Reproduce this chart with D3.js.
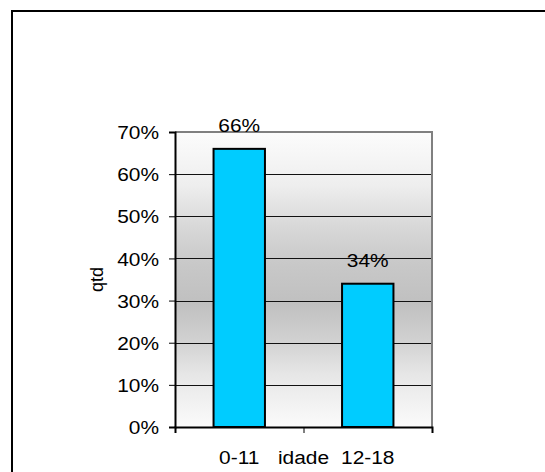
<!DOCTYPE html>
<html>
<head>
<meta charset="utf-8">
<script src="https://cdn.jsdelivr.net/npm/d3@7/dist/d3.min.js"></script>
<style>
  html, body { margin: 0; padding: 0; background: #fff; }
  svg { display: block; }
  text { font-family: "Liberation Sans", Arial, sans-serif; fill: #000; }
</style>
</head>
<body>
<svg id="chart" width="545" height="472"></svg>
<script>
// Share of records by age group
const categories = ["0-11", "12-18"];
const shares = [0.66, 0.34];
const yTicks = [0, 0.1, 0.2, 0.3, 0.4, 0.5, 0.6, 0.7];
const yTitle = "qtd";
const xTitle = "idade";

const svg = d3.select("#chart");
const plot = { left: 175, top: 132, right: 432, bottom: 427 };
const fontSize = 19;
const stretch = "scale(1.1,1)";

// Frame around the whole chart
svg.append("rect")
  .attr("x", 12).attr("y", 11)
  .attr("width", 600).attr("height", 520)
  .attr("fill", "#fff")
  .attr("stroke", "#000").attr("stroke-width", 2);

const x = d3.scaleBand()
  .domain(categories)
  .range([plot.left, plot.right])
  .paddingInner(0.6)
  .paddingOuter(0.3);

const y = d3.scaleLinear()
  .domain([0, 0.7])
  .range([plot.bottom, plot.top]);

// Plot-area background: light at the edges, grey in the middle
const defs = svg.append("defs");
const grad = defs.append("linearGradient")
  .attr("id", "bg").attr("x1", 0).attr("y1", 0).attr("x2", 0).attr("y2", 1);
[[0, "#fcfcfc"], [0.18, "#eeeeee"], [0.32, "#d8d8d8"], [0.45, "#c8c8c8"],
 [0.58, "#c0c0c0"], [0.7, "#d0d0d0"], [0.82, "#e6e6e6"], [1, "#fbfbfb"]]
  .forEach(([o, c]) => grad.append("stop").attr("offset", o).attr("stop-color", c));

svg.append("rect")
  .attr("x", plot.left).attr("y", plot.top)
  .attr("width", plot.right - plot.left).attr("height", plot.bottom - plot.top)
  .attr("fill", "url(#bg)");

// Horizontal gridlines
svg.append("g")
  .selectAll("line")
  .data(yTicks.filter(t => t > 0 && t < 0.7))
  .join("line")
  .attr("x1", plot.left).attr("x2", plot.right)
  .attr("y1", d => Math.round(y(d)) + 0.5).attr("y2", d => Math.round(y(d)) + 0.5)
  .attr("stroke", "#111").attr("stroke-width", 1);

// Top and right edges of the plot area
svg.append("path")
  .attr("d", `M${plot.left},${plot.top} H${plot.right} V${plot.bottom}`)
  .attr("fill", "none").attr("stroke", "#808080").attr("stroke-width", 2);

// Bars
svg.append("g")
  .selectAll("rect")
  .data(categories)
  .join("rect")
  .attr("x", d => x(d))
  .attr("y", (d, i) => y(shares[i]))
  .attr("width", x.bandwidth())
  .attr("height", (d, i) => y(0) - y(shares[i]))
  .attr("fill", "#00ccff")
  .attr("stroke", "#000").attr("stroke-width", 2);

// Value labels above the bars
svg.append("g")
  .selectAll("text")
  .data(categories)
  .join("text")
  .attr("transform", (d, i) =>
    `translate(${x(d) + x.bandwidth() / 2},${y(shares[i]) - 17}) ${stretch}`)
  .attr("text-anchor", "middle")
  .style("font-size", fontSize + "px")
  .text((d, i) => d3.format(".0%")(shares[i]));

// Y axis
const yAxis = svg.append("g")
  .attr("transform", `translate(${plot.left},0)`)
  .call(d3.axisLeft(y).tickValues(yTicks).tickSize(6).tickFormat(d3.format(".0%")));
yAxis.select(".domain").attr("stroke", "#000").attr("stroke-width", 2);
yAxis.selectAll(".tick line").attr("stroke", "#000");
yAxis.selectAll(".tick text")
  .attr("x", null)
  .attr("dy", "0.35em")
  .attr("transform", `translate(-16,0) ${stretch}`)
  .attr("font-family", null).attr("font-size", null)
  .style("font-size", fontSize + "px");

// X axis: ticks at category boundaries
const xEdges = d3.scaleLinear().domain([0, categories.length]).range([plot.left, plot.right]);
const xAxis = svg.append("g")
  .attr("transform", `translate(0,${plot.bottom})`)
  .call(d3.axisBottom(xEdges).tickValues(d3.range(categories.length + 1)).tickSize(6).tickFormat(""));
xAxis.select(".domain").attr("stroke", "#000").attr("stroke-width", 2);
xAxis.selectAll(".tick line").attr("stroke", "#000");

// Category labels
svg.append("g")
  .selectAll("text")
  .data(categories)
  .join("text")
  .attr("transform", d => `translate(${x(d) + x.bandwidth() / 2},464) ${stretch}`)
  .attr("text-anchor", "middle")
  .style("font-size", fontSize + "px")
  .text(d => d);

// Axis titles
svg.append("text")
  .attr("transform", `translate(${(plot.left + plot.right) / 2},464) ${stretch}`)
  .attr("text-anchor", "middle")
  .style("font-size", fontSize + "px")
  .text(xTitle);

svg.append("text")
  .attr("transform", `translate(103,${(plot.top + plot.bottom) / 2}) rotate(-90)`)
  .attr("text-anchor", "middle")
  .style("font-size", "18px")
  .text(yTitle);
</script>
</body>
</html>
